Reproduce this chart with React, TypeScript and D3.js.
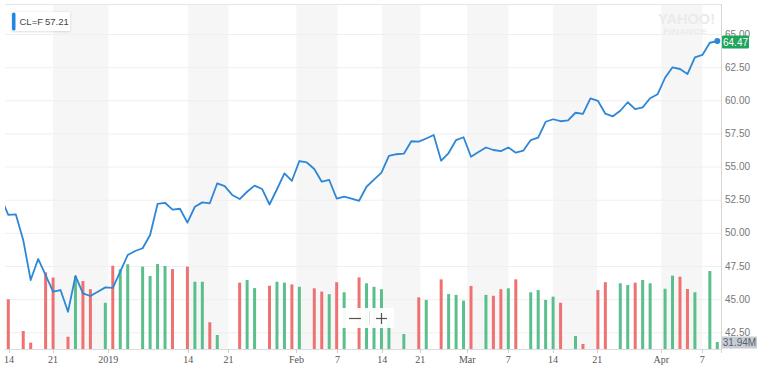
import React, { useEffect, useRef } from 'react'
import * as d3 from 'd3'

// daily closes, first value is the session before the visible window
const closes = [
  52.67, 51.35, 51.4, 49.46, 46.44, 48.03, 46.82, 45.56, 45.69, 44.05, 46.75,
  45.44, 45.24, 45.56, 45.89, 45.85, 47.07, 48.33, 48.63, 48.84, 49.84, 52.18,
  52.27, 51.75, 51.82, 50.77, 51.97, 52.3, 52.23, 53.74, 53.53, 52.86, 52.55,
  53.1, 53.56, 53.31, 52.14, 53.29, 54.49, 53.93, 55.42, 55.31, 54.82, 53.86,
  53.99, 52.59, 52.73, 52.59, 52.42, 53.48, 54.02, 54.55, 55.8, 55.93, 55.97,
  56.91, 56.88, 57.12, 57.38, 55.44, 56.02, 57.0, 57.21, 55.74, 56.1, 56.44,
  56.25, 56.17, 56.44, 56.05, 56.2, 57.0, 57.18, 58.38, 58.57, 58.42, 58.49,
  59.06, 58.97, 60.15, 59.96, 58.99, 58.79, 59.21, 59.85, 59.33, 59.47, 60.15,
  60.45, 61.7, 62.49, 62.36, 61.98, 63.24, 63.42, 64.34, 64.47,
]

// volume in millions, null = no bar
const volumes: (number | null)[] = [
  227, null, 82, 29, null, 350, 326, null, 56, 333, 310, 273, null, 211, 380,
  364, 387, null, 376, 333, 388, 379, 365, null, 376, 307, 307, 122, 64, null,
  null, 303, 315, 278, null, 289, 307, 303, 295, 284, null, 277, 262, 250, 305,
  259, null, 327, 300, 284, 273, 142, null, 68, null, 236, 224, null, 318, 251,
  247, 221, 288, null, 247, 243, 273, 277, 318, null, 259, 269, 224, 239, 211,
  null, 59, 23, null, 269, 305, null, 300, 292, 303, 315, 300, null, 275, 335,
  330, 274, 259, null, 356, 31.94,
]

const tickSlots = [0.1, 6, 13.4, 24.1, 29.5, 38.6, 44.1, 50.1, 55.2, 61.5, 67, 73, 78.9, 87.5, 93]
const tickLabels = ['14', '21', '2019', '14', '21', 'Feb', '7', '14', '21', 'Mar', '7', '14', '21', 'Apr', '7']
const priceTicks = [42.5, 45, 47.5, 50, 52.5, 55, 57.5, 60, 62.5, 65]

const sans = 'Arial, "Liberation Sans", Helvetica, sans-serif'
const serif = '"Times New Roman", "Liberation Serif", serif'

function draw(node: SVGSVGElement) {
  const svg = d3.select(node)
  svg.selectAll('*').remove()

  const left = 5,
    right = 721,
    top = 4,
    bottom = 349

  const x = d3.scaleLinear().domain([0, volumes.length - 1]).range([8.3, 717.3])
  const y = d3.scaleLinear().domain([42.5, 65]).range([332.3, 34])
  const yVol = d3.scaleLinear().domain([0, 400]).range([bottom, bottom - 87.6])

  svg.append('rect').attr('width', 768).attr('height', 368).attr('fill', '#fff')

  const defs = svg.append('defs')
  defs
    .append('clipPath')
    .attr('id', 'plot')
    .append('rect')
    .attr('x', left)
    .attr('y', top)
    .attr('width', right - left)
    .attr('height', bottom - top)
  const shadow = defs.append('filter').attr('id', 'shadow').attr('x', '-20%').attr('y', '-40%').attr('width', '140%').attr('height', '180%')
  shadow
    .append('feDropShadow')
    .attr('dx', 0)
    .attr('dy', 0.5)
    .attr('stdDeviation', 1.2)
    .attr('flood-color', '#000')
    .attr('flood-opacity', 0.18)

  // alternating week bands
  for (let i = 1; i + 1 < tickSlots.length; i += 2) {
    svg
      .append('rect')
      .attr('x', x(tickSlots[i]))
      .attr('y', top)
      .attr('width', x(tickSlots[i + 1]) - x(tickSlots[i]))
      .attr('height', bottom - top)
      .attr('fill', '#f6f6f6')
  }

  // grid
  svg
    .selectAll('.grid')
    .data(priceTicks)
    .enter()
    .append('line')
    .attr('x1', left)
    .attr('x2', right)
    .attr('y1', (d) => y(d) + 0.5)
    .attr('y2', (d) => y(d) + 0.5)
    .attr('stroke', '#efefef')

  svg.append('line').attr('x1', left).attr('x2', right).attr('y1', top + 0.5).attr('y2', top + 0.5).attr('stroke', '#e6e6e6')

  // watermark
  svg
    .append('text')
    .attr('x', 658)
    .attr('y', 23.5)
    .attr('textLength', 57)
    .attr('lengthAdjust', 'spacingAndGlyphs')
    .attr('font-family', sans)
    .attr('font-weight', 'bold')
    .attr('font-size', 15)
    .attr('fill', '#ebebeb')
    .text('YAHOO!')
  svg
    .append('text')
    .attr('x', 663)
    .attr('y', 33.5)
    .attr('textLength', 44)
    .attr('lengthAdjust', 'spacingAndGlyphs')
    .attr('font-family', sans)
    .attr('font-weight', 'bold')
    .attr('font-size', 8)
    .attr('fill', '#ebebeb')
    .text('FINANCE')

  // volume bars
  const bars = volumes
    .map((v, i) => ({ v, i, up: closes[i + 1] >= closes[i] }))
    .filter((d) => d.v !== null)
  svg
    .append('g')
    .selectAll('rect')
    .data(bars)
    .enter()
    .append('rect')
    .attr('x', (d) => x(d.i) - 1.5)
    .attr('width', 3)
    .attr('y', (d) => yVol(d.v as number))
    .attr('height', (d) => bottom - yVol(d.v as number))
    .attr('fill', (d) => (d.up ? '#5bbf8d' : '#ee7271'))

  // price line
  const line = d3
    .line<number>()
    .x((d, i) => x(i - 1))
    .y((d) => y(d))
  svg
    .append('path')
    .attr('clip-path', 'url(#plot)')
    .attr('d', line(closes))
    .attr('fill', 'none')
    .attr('stroke', '#2d87d6')
    .attr('stroke-width', 1.8)
    .attr('stroke-linejoin', 'round')

  const last = closes[closes.length - 1]
  svg
    .append('circle')
    .attr('cx', x(volumes.length - 1))
    .attr('cy', y(last))
    .attr('r', 3)
    .attr('fill', '#2d87d6')

  // axes
  svg.append('line').attr('x1', right + 0.5).attr('x2', right + 0.5).attr('y1', top).attr('y2', 353).attr('stroke', '#d6d6d6')
  svg.append('line').attr('x1', left).attr('x2', right).attr('y1', bottom + 0.5).attr('y2', bottom + 0.5).attr('stroke', '#dcdcdc')

  svg
    .selectAll('.ylab')
    .data(priceTicks)
    .enter()
    .append('text')
    .attr('x', 725)
    .attr('y', (d) => y(d) + 3.5)
    .attr('font-family', sans)
    .attr('font-size', 10)
    .attr('fill', '#777')
    .text((d) => d.toFixed(2))

  svg
    .selectAll('.xtick')
    .data(tickSlots)
    .enter()
    .append('line')
    .attr('x1', (d) => Math.round(x(d)) + 0.5)
    .attr('x2', (d) => Math.round(x(d)) + 0.5)
    .attr('y1', bottom)
    .attr('y2', bottom + 4)
    .attr('stroke', '#cfcfcf')

  svg
    .selectAll('.xlab')
    .data(tickSlots)
    .enter()
    .append('text')
    .attr('x', (d) => x(d))
    .attr('y', 363)
    .attr('text-anchor', 'middle')
    .attr('font-family', serif)
    .attr('font-size', 10)
    .attr('fill', '#555')
    .text((d, i) => tickLabels[i])

  // current price label
  svg.append('rect').attr('x', 722).attr('y', 35.5).attr('width', 27).attr('height', 13).attr('rx', 1).attr('fill', '#1ca55b')
  svg
    .append('text')
    .attr('x', 735.5)
    .attr('y', 45.5)
    .attr('text-anchor', 'middle')
    .attr('font-family', sans)
    .attr('font-size', 10)
    .attr('fill', '#fff')
    .text(last.toFixed(2))

  // current volume label
  const lastVol = volumes[volumes.length - 1] as number
  svg.append('rect').attr('x', 722).attr('y', 336.5).attr('width', 35).attr('height', 12).attr('fill', '#c8ccd3')
  svg
    .append('text')
    .attr('x', 739.5)
    .attr('y', 346)
    .attr('text-anchor', 'middle')
    .attr('font-family', sans)
    .attr('font-size', 10)
    .attr('fill', '#59606b')
    .text(lastVol.toFixed(2) + 'M')

  // legend
  const lg = svg.append('g')
  lg.append('rect').attr('x', 12).attr('y', 12).attr('width', 58).attr('height', 19).attr('fill', '#fff').attr('filter', 'url(#shadow)')
  lg.append('rect').attr('x', 12).attr('y', 12.5).attr('width', 3.5).attr('height', 18).attr('rx', 1.5).attr('fill', '#1e88e5')
  lg.append('text').attr('x', 19.5).attr('y', 25).attr('font-family', sans).attr('font-size', 9.5).attr('fill', '#444').text('CL=F')
  lg.append('text').attr('x', 45).attr('y', 25).attr('font-family', sans).attr('font-size', 9.5).attr('fill', '#444').text('57.21')

  // zoom control
  const zc = svg.append('g')
  zc.append('rect').attr('x', 341).attr('y', 308).attr('width', 53).attr('height', 20).attr('rx', 2).attr('fill', '#fff').attr('fill-opacity', 0.95)
  zc.append('line').attr('x1', 349).attr('x2', 361).attr('y1', 318.5).attr('y2', 318.5).attr('stroke', '#555').attr('stroke-width', 1.2)
  zc.append('line').attr('x1', 369.5).attr('x2', 369.5).attr('y1', 311).attr('y2', 325).attr('stroke', '#ddd')
  zc.append('line').attr('x1', 376).attr('x2', 387).attr('y1', 318.5).attr('y2', 318.5).attr('stroke', '#555').attr('stroke-width', 1.2)
  zc.append('line').attr('x1', 381.5).attr('x2', 381.5).attr('y1', 313).attr('y2', 324).attr('stroke', '#555').attr('stroke-width', 1.2)
}

export default function App() {
  const ref = useRef<SVGSVGElement>(null)

  useEffect(() => {
    if (ref.current) draw(ref.current)
  }, [])

  return <svg ref={ref} width={768} height={368} style={{ position: 'absolute', left: 0, top: 0 }} />
}
